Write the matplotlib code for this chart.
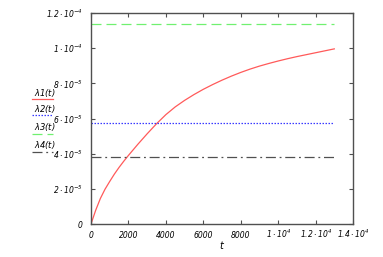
import matplotlib
matplotlib.use("Agg")
import matplotlib.pyplot as plt
from matplotlib.lines import Line2D

# values
t = [0, 250, 500, 750, 1000, 1250, 1500, 1750, 2000, 2500, 3000, 3500, 4000,
     4500, 5000, 5500, 6000, 6500, 7000, 7500, 8000, 8500, 9000, 9500, 10000,
     10500, 11000, 11500, 12000, 12500, 13000]
lam1 = [0, 0.78e-5, 1.45e-5, 1.98e-5, 2.42e-5, 2.84e-5, 3.22e-5, 3.57e-5, 3.90e-5,
        4.53e-5, 5.13e-5, 5.70e-5, 6.22e-5, 6.66e-5, 7.03e-5, 7.36e-5, 7.66e-5,
        7.93e-5, 8.18e-5, 8.41e-5, 8.62e-5, 8.81e-5, 8.98e-5, 9.13e-5, 9.27e-5,
        9.40e-5, 9.52e-5, 9.63e-5, 9.74e-5, 9.85e-5, 9.96e-5]
lam2 = 5.73e-5
lam3 = 1.14e-4
lam4 = 3.8e-5

xticks = [0, 2000, 4000, 6000, 8000, 10000, 12000, 14000]
xlabels = ["0", "2000", "4000", "6000", "8000",
           r"$1\cdot 10^{4}$", r"$1.2\cdot 10^{4}$", r"$1.4\cdot 10^{4}$"]
yticks = [0, 2e-5, 4e-5, 6e-5, 8e-5, 1e-4, 1.2e-4]
ylabels = ["0", r"$2\cdot 10^{-5}$", r"$4\cdot 10^{-5}$", r"$6\cdot 10^{-5}$",
           r"$8\cdot 10^{-5}$", r"$1\cdot 10^{-4}$", r"$1.2\cdot 10^{-4}$"]
names = [r"$\lambda1(t)$", r"$\lambda2(t)$", r"$\lambda3(t)$", r"$\lambda4(t)$"]

plt.rcParams["mathtext.default"] = "it"
plt.rcParams["font.style"] = "italic"

red = "#ff5a5a"
blue = "#3a3aff"
green = "#70f070"
grey = "#505050"

fig = plt.figure(figsize=(3.83, 2.57), dpi=100)
ax = fig.add_axes([0.2376, 0.1284, 0.9217 - 0.2376, 0.9494 - 0.1284])

tx = [t[0], t[-1]]
ax.plot(t, lam1, color=red, lw=0.9)
ax.plot(tx, [lam2, lam2], color=blue, lw=0.9, linestyle=(0, (1.2, 1.2)))
ax.plot(tx, [lam3, lam3], color=green, lw=0.9, linestyle=(0, (8, 4)))
ax.plot(tx, [lam4, lam4], color=grey, lw=0.9, linestyle=(0, (8, 3, 1.5, 3)))

ax.set_xlim(0, 14000)
ax.set_ylim(0, 1.2e-4)
ax.set_xticks(xticks)
ax.set_xticklabels(xlabels, va="baseline")
ax.set_yticks(yticks)
ax.set_yticklabels(ylabels, va="center_baseline")
ax.tick_params(direction="in", length=3, width=0.8, color=grey,
               top=True, right=True, labelsize=5.5)
ax.tick_params(axis="x", pad=10)
ax.tick_params(axis="y", pad=6)
for s in ax.spines.values():
    s.set_color(grey)
    s.set_linewidth(1.0)
ax.set_xlabel(r"$t$", fontsize=7, labelpad=-1)

# legend on the left, text over each line sample
styles = [dict(color=red, ls="-"),
          dict(color=blue, ls=(0, (1.2, 1.2))),
          dict(color=green, ls=(0, (8, 4))),
          dict(color=grey, ls=(0, (8, 3, 1.5, 3)))]
text_y = [93, 109, 127, 145]
line_y = [99, 115, 134, 152]
for name, st, ty, ly in zip(names, styles, text_y, line_y):
    fig.text(34 / 383, 1 - ty / 257, name, fontsize=6, ha="left", va="center")
    fig.add_artist(Line2D([32 / 383, 53 / 383], [1 - ly / 257, 1 - ly / 257],
                          color=st["color"], linestyle=st["ls"], lw=0.9))

fig.savefig("out.png", dpi=100)
